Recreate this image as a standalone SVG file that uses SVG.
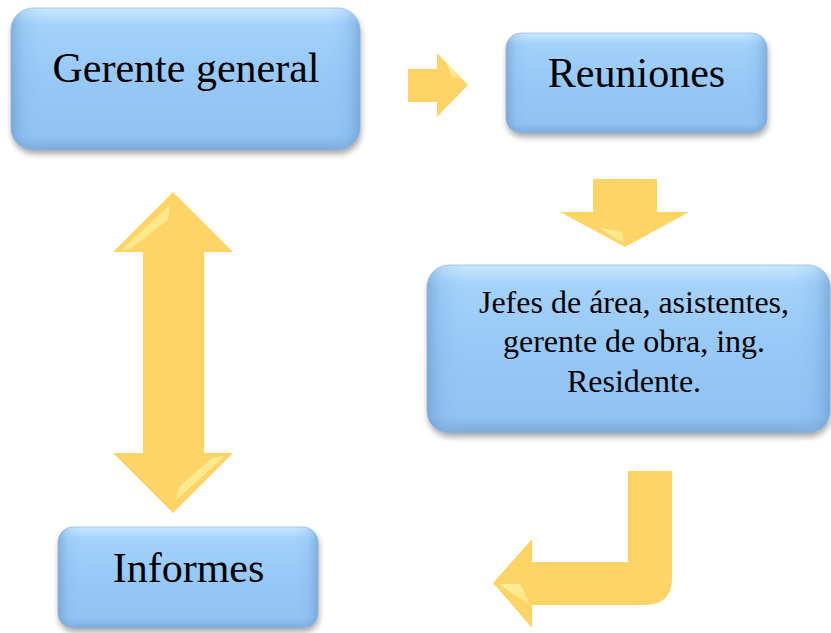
<svg xmlns="http://www.w3.org/2000/svg" width="831" height="633" viewBox="0 0 831 633">
  <defs>
    <linearGradient id="boxV" x1="0" y1="0" x2="0" y2="1">
      <stop offset="0" stop-color="#c9e8ff"/>
      <stop offset="0.12" stop-color="#a3d2fb"/>
      <stop offset="0.5" stop-color="#97c8f6"/>
      <stop offset="0.9" stop-color="#90c3f3"/>
      <stop offset="1" stop-color="#7fa9d6"/>
    </linearGradient>
    <linearGradient id="boxH" x1="0" y1="0" x2="1" y2="0">
      <stop offset="0" stop-color="#5a86b8" stop-opacity="0.45"/>
      <stop offset="0.04" stop-color="#7fb3e6" stop-opacity="0.25"/>
      <stop offset="0.1" stop-color="#97c8f6" stop-opacity="0"/>
      <stop offset="0.9" stop-color="#97c8f6" stop-opacity="0"/>
      <stop offset="0.96" stop-color="#7fb3e6" stop-opacity="0.25"/>
      <stop offset="1" stop-color="#5a86b8" stop-opacity="0.45"/>
    </linearGradient>
    <filter id="shadow" x="-10%" y="-10%" width="120%" height="130%">
      <feGaussianBlur in="SourceAlpha" stdDeviation="3"/>
      <feOffset dx="1" dy="4" result="b"/>
      <feComponentTransfer><feFuncA type="linear" slope="0.35"/></feComponentTransfer>
      <feMerge><feMergeNode/><feMergeNode in="SourceGraphic"/></feMerge>
    </filter>
    <linearGradient id="hl" x1="0" y1="0" x2="1" y2="1">
      <stop offset="0" stop-color="#fff7b0"/>
      <stop offset="1" stop-color="#ffe17a"/>
    </linearGradient>
  </defs>
  <style>
    .box { fill: url(#boxV); filter: url(#shadow); }
    .edge { fill: url(#boxH); stroke: #8fb4dc; stroke-width: 1; stroke-opacity: 0.6; }
    .lbl { font-family: "Liberation Serif", "Times New Roman", serif; fill: #000; text-anchor: middle; }
    .arrow { fill: #fed466; }
    .shine { fill: url(#hl); opacity: 0.85; }
  </style>

  <g id="connectors">
    <g id="arrow-right">
      <polygon class="arrow" points="408,69 437,69 437,53 468,85 437,117 437,102 408,102"/>
      <polygon class="shine" points="446,62 462,79 452,77" opacity="0.6"/>
    </g>
    <g id="arrow-down">
      <polygon class="arrow" points="593,179 657,179 657,212 689,212 625,247 560,212 593,212"/>
      <polygon class="shine" points="600,228 622,232 625,245" opacity="0.6"/>
    </g>
    <g id="arrow-double">
      <polygon class="arrow" points="173,192 233,252 204,252 204,453 233,453 173,513 113,453 143,453 143,252 113,252"/>
      <polygon class="shine" points="121,250 170,205 168,220 130,249"/>
      <polygon class="shine" points="225,456 176,500 178,488 212,458"/>
    </g>
    <g id="arrow-bent">
      <path class="arrow" d="M628,471 L672,471 L672,578 Q672,605 645,605 L532,605 L532,628 L493,583 L532,539 L532,562 L628,562 Z"/>
      <polygon class="shine" points="499,584 520,584 531,606"/>
    </g>
  </g>

  <g id="node-gerente">
    <rect class="box" x="11" y="8" width="349" height="142" rx="22"/>
    <rect class="edge" x="11" y="8" width="349" height="142" rx="22"/>
    <text class="lbl" x="186" y="82" font-size="42">Gerente general</text>
  </g>

  <g id="node-reuniones">
    <rect class="box" x="506" y="33" width="261" height="100" rx="15"/>
    <rect class="edge" x="506" y="33" width="261" height="100" rx="15"/>
    <text class="lbl" x="636.5" y="87" font-size="42">Reuniones</text>
  </g>

  <g id="node-jefes">
    <rect class="box" x="427" y="265" width="403" height="168" rx="22"/>
    <rect class="edge" x="427" y="265" width="403" height="168" rx="22"/>
    <text class="lbl" x="634" y="313" font-size="32">Jefes de área, asistentes,</text>
    <text class="lbl" x="634" y="352" font-size="32">gerente de obra, ing.</text>
    <text class="lbl" x="634" y="392" font-size="32">Residente.</text>
  </g>

  <g id="node-informes">
    <rect class="box" x="58" y="527" width="260" height="101" rx="15"/>
    <rect class="edge" x="58" y="527" width="260" height="101" rx="15"/>
    <text class="lbl" x="188.5" y="582" font-size="42">Informes</text>
  </g>
</svg>
